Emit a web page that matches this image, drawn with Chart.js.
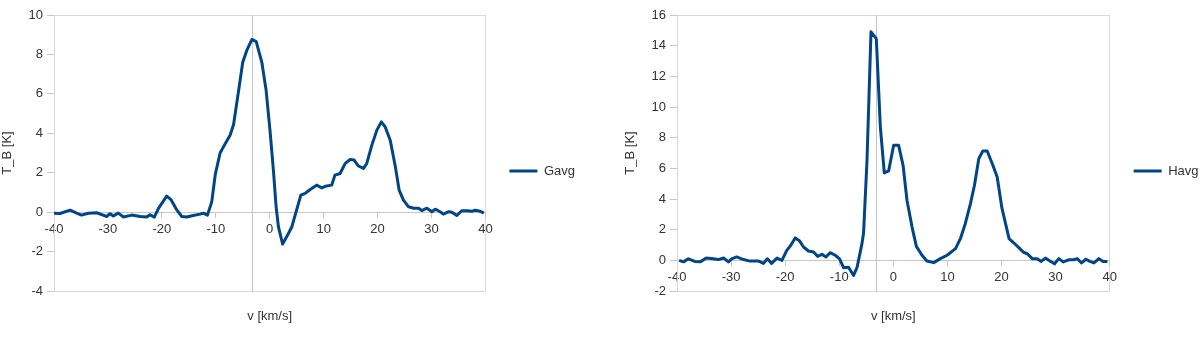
<!DOCTYPE html>
<html>
<head>
<meta charset="utf-8">
<script src="https://cdn.jsdelivr.net/npm/chart.js@4.4.1/dist/chart.umd.min.js"></script>
<style>
  html, body { margin: 0; padding: 0; background: #fff; overflow: hidden; width: 1200px; height: 343px; }
  canvas { position: absolute; top: 0; }
  #gavg { left: 0; }
  #havg { left: 600px; }
</style>
</head>
<body>
<canvas id="gavg" width="600" height="343"></canvas>
<canvas id="havg" width="620" height="343"></canvas>
<script>
// Gavg: velocidade (km/s) e temperatura de brilho (K)
const gavgVel = [-40, -38.9, -37, -35.8, -34.9, -33.6, -32.1, -30.9, -30.2, -29.6, -29, -28.1, -27.1, -25.6,
  -24, -22.8, -22.2, -21.4, -20.6, -19.1, -18.35, -17.2, -16.3, -15.4, -14.2, -12.9, -12.3, -11.55,
  -10.75, -10.1, -9.2, -8.2, -7.35, -6.7, -5.8, -5, -4.25, -3.3, -2.5, -1.46, -0.67, 0.07, 0.69, 1.19,
  1.62, 2.4, 3.29, 4.1, 5.77, 6.57, 7.5, 8.7, 9.66, 10.3, 11.5, 12.1, 13.06, 14, 14.9, 15.66, 16.46,
  17.4, 18, 18.94, 19.87, 20.7, 21.4, 22.35, 23.3, 24, 24.8, 25.75, 26.7, 27.6, 28.2, 29.15, 30.1,
  30.7, 31.6, 32.2, 33.2, 33.8, 34.7, 35.6, 36.6, 37.5, 38.1, 39, 39.7];
const gavgTb = [-0.05, -0.07, 0.1, -0.05, -0.15, -0.06, -0.03, -0.15, -0.22, -0.08, -0.2, -0.05, -0.25, -0.15,
  -0.22, -0.25, -0.13, -0.25, 0.2, 0.81, 0.65, 0.1, -0.22, -0.25, -0.17, -0.1, -0.05, -0.15,
  0.52, 1.9, 3.0, 3.5, 3.9, 4.45, 6.1, 7.6, 8.2, 8.76, 8.65, 7.6, 6.19, 4.1, 2.1, 0.27,
  -0.75, -1.62, -1.17, -0.75, 0.86, 0.95, 1.15, 1.37, 1.23, 1.31, 1.37, 1.88, 1.96, 2.47, 2.67, 2.64, 2.34,
  2.22, 2.47, 3.4, 4.16, 4.58, 4.33, 3.65, 2.3, 1.12, 0.61, 0.27, 0.2, 0.2, 0.08, 0.2, 0.02,
  0.15, 0.02, -0.1, 0.02, 0, -0.17, 0.07, 0.07, 0.04, 0.1, 0.05, -0.05];

// Havg
const havgVel = [-39.6, -38.8, -37.9, -36.7, -35.7, -34.6, -33.3, -32.35, -31.4, -30.5, -29.9, -28.95, -27.7,
  -26.5, -24.9, -24, -23.3, -22.5, -21.5, -20.6, -19.7, -18.95, -18.15, -17.35, -16.6, -15.7, -14.75,
  -14, -13.2, -12.46, -11.7, -10.74, -9.94, -9.2, -8.3, -7.35, -6.7, -5.8, -5.5, -4.87, -4.13, -3.15,
  -2.4, -1.67, -0.87, 0.06, 0.98, 1.8, 2.53, 3.46, 4.26, 5.3, 6.2, 7.46, 8.7, 9.94, 11.5, 12.4, 13.3,
  14.26, 15, 15.8, 16.55, 17.35, 18.3, 19.2, 20.1, 21.4, 22.3, 23.2, 24, 24.76, 25.7, 26.6, 27.35,
  28.1, 29.1, 29.8, 30.6, 31.4, 32.5, 33.4, 34, 34.8, 35.6, 36.35, 37.1, 38, 38.8, 39.6];
const havgTb = [0, -0.1, 0.1, -0.07, -0.1, 0.15, 0.1, 0.05, 0.15, -0.1, 0.1, 0.22, 0.05,
  -0.05, -0.05, -0.2, 0.1, -0.2, 0.15, 0, 0.65, 0.98, 1.46, 1.27, 0.87, 0.61, 0.55,
  0.26, 0.39, 0.22, 0.5, 0.33, 0.1, -0.48, -0.45, -0.98, -0.45, 1.09, 1.8, 6.5, 14.9, 14.46,
  8.7, 5.7, 5.83, 7.5, 7.5, 6.2, 3.9, 2.17, 0.91, 0.33, -0.04, -0.15, 0.11, 0.33, 0.76, 1.41, 2.39,
  3.7, 4.9, 6.63, 7.13, 7.13, 6.3, 5.43, 3.37, 1.41, 1.13, 0.83, 0.54, 0.43, 0.11, 0.11, -0.07,
  0.15, -0.07, -0.22, 0.11, -0.1, 0.04, 0.04, 0.11, -0.17, 0.07, -0.07, -0.17, 0.11, -0.07, -0.07];

const xTicks = { min: -40, max: 40, step: 10 };
const gavgY = { min: -4, max: 10, step: 2 };
const havgY = { min: -2, max: 16, step: 2 };
const axisCross = -3.2; // onde o eixo vertical cruza

const lineColor = '#004586';
const textColor = '#333333';
const frameColor = '#d9d9d9';
const axisColor = '#c6c6c6';

Chart.defaults.font.family = "'Liberation Sans', Arial, sans-serif";
Chart.defaults.font.size = 13;
Chart.defaults.color = textColor;

function makeChart(id, label, vel, tb, yr, padLeft, padRight) {
  const points = vel.map((v, i) => ({ x: v, y: tb[i] }));
  const edgeX = c => (c.tick && (c.tick.value === xTicks.min || c.tick.value === xTicks.max)) ? frameColor : 'rgba(0,0,0,0)';
  const edgeY = c => (c.tick && (c.tick.value === yr.min || c.tick.value === yr.max)) ? frameColor : 'rgba(0,0,0,0)';

  return new Chart(document.getElementById(id), {
    type: 'line',
    data: {
      datasets: [{
        label: label,
        data: points,
        borderColor: lineColor,
        backgroundColor: lineColor,
        borderWidth: 3,
        borderJoinStyle: 'round',
        pointRadius: 0,
        tension: 0,
        fill: false,
        xAxisID: 'x',
        yAxisID: 'y'
      }]
    },
    options: {
      responsive: false,
      animation: false,
      layout: { padding: { left: padLeft, right: padRight, top: 15, bottom: 16 } },
      plugins: {
        legend: {
          position: 'right',
          labels: { usePointStyle: true, pointStyle: 'line', pointStyleWidth: 28, padding: 24, color: textColor }
        },
        title: {
          display: true,
          position: 'bottom',
          fullSize: false,
          text: 'v [km/s]',
          color: textColor,
          font: { size: 13, weight: 'normal' },
          padding: { top: 18, bottom: 2.4 }
        },
        tooltip: { enabled: false }
      },
      scales: {
        x: {
          type: 'linear',
          position: { y: 0 },
          min: xTicks.min,
          max: xTicks.max,
          ticks: { stepSize: xTicks.step, padding: 4, color: textColor },
          grid: { color: edgeX, tickColor: axisColor, tickLength: 5 },
          border: { color: axisColor }
        },
        y: {
          type: 'linear',
          position: 'left',
          min: yr.min,
          max: yr.max,
          ticks: { stepSize: yr.step, padding: 4, color: textColor },
          grid: { color: edgeY, tickColor: axisColor, tickLength: 7 },
          border: { color: frameColor },
          title: { display: true, text: 'T_B [K]', color: textColor, font: { size: 13 }, padding: { top: 0, bottom: 0 } },
          afterFit: s => { s.width = 54; }
        },
        yv: {
          axis: 'y',
          type: 'linear',
          position: { x: axisCross },
          min: yr.min,
          max: yr.max,
          ticks: { display: false },
          grid: { drawOnChartArea: false, drawTicks: false },
          border: { color: axisColor }
        }
      }
    }
  });
}

makeChart('gavg', 'Gavg', gavgVel, gavgTb, gavgY, 0, 17.5);
makeChart('havg', 'Havg', havgVel, havgTb, havgY, 23, 13);
</script>
</body>
</html>
